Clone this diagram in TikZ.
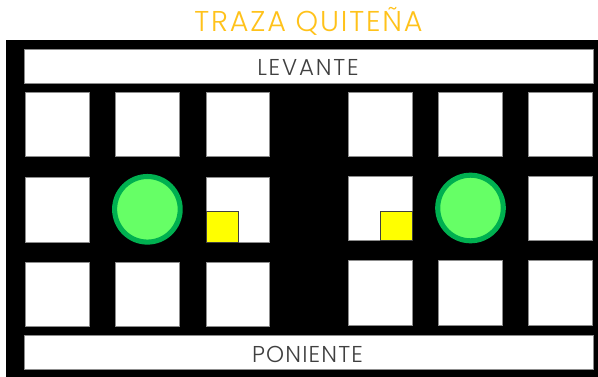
\documentclass[tikz,border=0pt]{standalone}
\usepackage{fontspec}
\setmainfont{Poppins}[UprightFont=* Light]
\newfontfamily\titlefont{Poppins}[UprightFont=* Light,LetterSpace=6.5]
\newfontfamily\levfont{Poppins}[UprightFont=* Light,LetterSpace=8]
\newfontfamily\ponfont{Poppins}[UprightFont=* Light,LetterSpace=5]
\definecolor{titlecol}{HTML}{FFC21A}
\definecolor{labelcol}{HTML}{404040}
\definecolor{edgecol}{HTML}{8C8C8C}
\definecolor{plaza}{HTML}{66FF66}
\definecolor{plazaedge}{HTML}{00B050}
\definecolor{cornerfill}{HTML}{FFFF00}
\tikzset{
  block/.style={fill=white,draw=edgecol,line width=0.5pt},
  band/.style={fill=white,draw=edgecol,line width=0.5pt},
  corner/.style={fill=cornerfill,draw=black!75,line width=0.6pt},
  park/.style={circle,fill=plaza,draw=plazaedge,line width=3.8pt},
  bandtext/.style={text=labelcol,inner sep=0pt,anchor=base},
  titletext/.style={text=titlecol,inner sep=0pt,anchor=base}
}
\newcommand{\blk}[4]{\fill[block] (#1,#2) rectangle (#3,#4);}
\begin{document}
\begin{tikzpicture}[x=0.75pt,y=-0.75pt]
\useasboundingbox (0,0) rectangle (598,377);
\fill[white] (0,0) rectangle (598,377);
\fill[black] (6,40.5) rectangle (598,377);
\fill[band] (24.3,49.5) rectangle (593,83);
\fill[band] (24.3,335.8) rectangle (593,369.3);
\blk{25}{92}{89}{156}\blk{115.5}{92}{179.5}{156}\blk{206}{92}{269.5}{156}
\blk{348}{92}{412}{156}\blk{438.5}{92}{502.5}{156}\blk{528}{92}{592}{156}
\blk{25}{177}{89}{242}\blk{206}{177}{269.5}{242}
\blk{348}{176}{412}{240.5}\blk{528}{176}{592}{240.5}
\blk{25}{262}{89}{326.5}\blk{115.5}{262}{179.5}{326.5}\blk{206}{262}{269.5}{326.5}
\blk{348}{260.5}{412}{325}\blk{438.5}{260.5}{502.5}{325}\blk{528}{260.5}{592}{325}
\fill[corner] (206,211.7) rectangle (238,242);
\fill[corner] (380.3,211) rectangle (412,240.5);
\node[park,minimum size=49.2pt,inner sep=0pt] (parkL) at (147.4,209.3) {};
\node[park,minimum size=49.2pt,inner sep=0pt] (parkR) at (470.5,208) {};
\node[titletext,font=\titlefont\fontsize{21.5}{24}\selectfont] (title) at (308.5,32) {TRAZA QUITEÑA};
\node[bandtext,font=\levfont\fontsize{17.2}{20}\selectfont] (lev) at (308,76) {LEVANTE};
\node[bandtext,font=\ponfont\fontsize{17.2}{20}\selectfont] (pon) at (307.5,362) {PONIENTE};
\end{tikzpicture}
\end{document}
